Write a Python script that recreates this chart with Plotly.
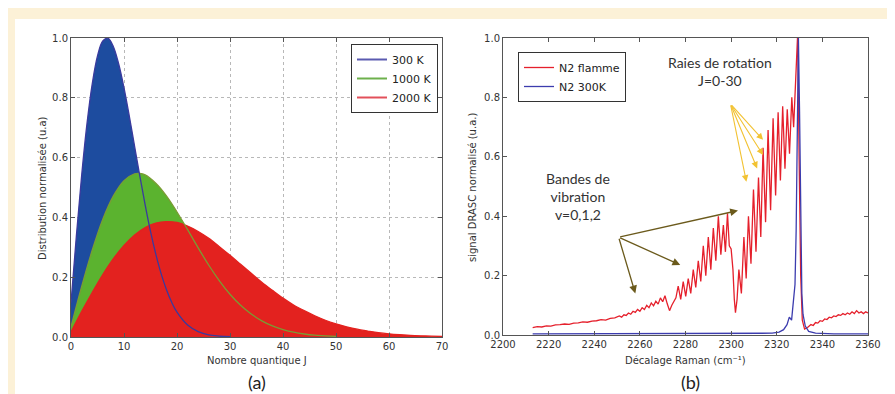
import plotly.graph_objects as go

# ---------------- Panel (a): rotational population distributions ----------------
J_300 = [0, 1, 2, 3, 4, 5, 6, 7, 8, 9, 10, 11, 12, 13, 14, 15, 16, 17, 18, 19, 20, 22, 24, 26, 28, 30]
P_300 = [0.114, 0.335, 0.538, 0.711, 0.846, 0.940, 0.990, 0.999, 0.971, 0.913, 0.833, 0.739, 0.638,
         0.537, 0.441, 0.353, 0.277, 0.212, 0.159, 0.116, 0.083, 0.040, 0.018, 0.007, 0.003, 0.001]

J_1000 = [0, 2, 4, 6, 8, 10, 12, 13, 14, 16, 18, 20, 22, 24, 26, 28, 30, 32, 34, 36, 38, 40, 42, 44, 46, 48, 50]
P_1000 = [0.034, 0.168, 0.290, 0.394, 0.472, 0.523, 0.546, 0.547, 0.542, 0.514, 0.472, 0.418, 0.359,
          0.298, 0.240, 0.188, 0.143, 0.106, 0.077, 0.054, 0.037, 0.025, 0.016, 0.010, 0.006, 0.004, 0.002]

J_2000 = [0, 2, 4, 6, 8, 10, 12, 14, 16, 18, 20, 22, 24, 26, 28, 30, 32, 34, 36, 38, 40, 42, 44, 46,
          48, 50, 52, 54, 56, 58, 60, 62, 64, 66, 68, 70]
P_2000 = [0.017, 0.085, 0.149, 0.209, 0.262, 0.306, 0.341, 0.366, 0.381, 0.386, 0.383, 0.371, 0.353,
          0.330, 0.302, 0.273, 0.243, 0.213, 0.183, 0.156, 0.130, 0.107, 0.088, 0.071, 0.056, 0.044,
          0.034, 0.026, 0.020, 0.0145, 0.0106, 0.0077, 0.0055, 0.0039, 0.0027, 0.0019]

TEMP_LABELS = ["300 K", "1000 K", "2000 K"]

# ---------------- Panel (b): CARS spectra ----------------
FLAME_X = [2213, 2215, 2217, 2219, 2221, 2223, 2225, 2227, 2229, 2231, 2233, 2235, 2237, 2239, 2241,
           2243, 2245, 2247, 2249, 2251, 2252, 2253, 2254, 2255, 2256, 2257, 2258, 2259, 2260, 2261,
           2262, 2263, 2264, 2265, 2266, 2267, 2268, 2269, 2270, 2271, 2272, 2273, 2274, 2275,
           2275.8, 2276.8, 2277.9, 2279.0, 2280.1, 2281.2, 2282.3, 2283.4, 2284.5, 2285.6, 2286.7,
           2287.8, 2288.9, 2290.0, 2291.1, 2292.2, 2293.3, 2294.4, 2295.5, 2296.6, 2297.5, 2298.4,
           2299.2, 2300.0, 2300.8, 2301.4, 2301.9,
           2302.6, 2303.4, 2304.5, 2305.6, 2306.6, 2307.6, 2308.7, 2309.8, 2310.9, 2312.0, 2313.0,
           2314.0, 2315.1, 2316.2, 2317.3, 2318.4, 2319.5, 2320.6, 2321.6, 2322.6, 2323.6, 2324.6,
           2325.6, 2326.6, 2327.4, 2328.0, 2328.6, 2329.2, 2329.8, 2330.5, 2331.2, 2332.2,
           2333.5, 2335, 2336, 2337, 2338, 2339, 2340, 2341, 2342, 2343, 2344, 2345, 2346, 2347,
           2348, 2349, 2350, 2351, 2352, 2353, 2354, 2355, 2356, 2357, 2358, 2359, 2360]
FLAME_Y = [0.025, 0.028, 0.027, 0.031, 0.030, 0.034, 0.035, 0.037, 0.036, 0.040, 0.041, 0.044, 0.043,
           0.047, 0.048, 0.052, 0.050, 0.056, 0.058, 0.064, 0.060, 0.068, 0.066, 0.074, 0.070, 0.080,
           0.076, 0.086, 0.080, 0.092, 0.086, 0.100, 0.092, 0.108, 0.098, 0.114, 0.104, 0.125, 0.112,
           0.132, 0.105, 0.082, 0.100, 0.115,
           0.125, 0.165, 0.120, 0.180, 0.130, 0.190, 0.140, 0.220, 0.160, 0.250, 0.180,
           0.300, 0.200, 0.330, 0.220, 0.360, 0.250, 0.400, 0.270, 0.370, 0.280, 0.410,
           0.300, 0.290, 0.220, 0.120, 0.075,
           0.120, 0.220, 0.140, 0.330, 0.190, 0.400, 0.240, 0.490, 0.280, 0.530, 0.330,
           0.630, 0.380, 0.690, 0.420, 0.730, 0.470, 0.750, 0.520, 0.770, 0.560, 0.760,
           0.610, 0.800, 0.700, 0.820, 0.900, 1.020, 0.600, 0.200, 0.050, 0.020,
           0.025, 0.035, 0.032, 0.042, 0.040, 0.048, 0.046, 0.054, 0.052, 0.060, 0.058, 0.064, 0.062,
           0.068, 0.066, 0.072, 0.068, 0.074, 0.070, 0.078, 0.072, 0.082, 0.074, 0.078, 0.072, 0.078, 0.074]

COLD_X = [2213, 2230, 2250, 2270, 2290, 2310, 2318, 2321, 2323, 2324.5, 2325.5, 2326.5, 2327.3, 2328.0,
          2328.5, 2329.0, 2329.5, 2330.0, 2330.5, 2331.0, 2331.5, 2332.5, 2334, 2337, 2345, 2360]
COLD_Y = [0.004, 0.004, 0.004, 0.004, 0.004, 0.005, 0.006, 0.010, 0.018, 0.035, 0.060, 0.050, 0.110,
          0.170, 0.350, 0.750, 1.000, 0.750, 0.350, 0.140, 0.070, 0.030, 0.012, 0.006, 0.004, 0.004]

SPEC_LABELS = ["N2 flamme", "N2 300K"]

W, H = 895, 394
OFF = 8  # page body margin offset
def px(x): return (x - OFF) / W
def py(y): return 1 - (y - OFF) / H

fig = go.Figure()

FILL = ["#1d4c9f", "#5bb32f", "#e3221f"]
LINE = ["#3a3a9e", "#7a9c34", "#e3221f"]
LEG = ["#5a5ab0", "#6db04c", "#e2505a"]
series = [(J_300, P_300), (J_1000, P_1000), (J_2000, P_2000)]

for (xs, ys), fc in zip(series, FILL):
    fig.add_trace(go.Scatter(x=xs, y=ys, mode="lines", fill="tozeroy", fillcolor=fc,
                             line=dict(width=0, shape="spline", color=fc), showlegend=False,
                             hoverinfo="skip", xaxis="x", yaxis="y"))
for i in [2, 1, 0]:
    xs, ys = series[i]
    fig.add_trace(go.Scatter(x=xs, y=ys, mode="lines", line=dict(width=1.3, shape="spline", color=LINE[i]),
                             showlegend=False, xaxis="x", yaxis="y"))
for i in range(3):
    fig.add_trace(go.Scatter(x=[None], y=[None], mode="lines", name=TEMP_LABELS[i],
                             line=dict(width=2, color=LEG[i]), xaxis="x", yaxis="y", legend="legend"))

fig.add_trace(go.Scatter(x=FLAME_X, y=FLAME_Y, mode="lines", name=SPEC_LABELS[0],
                         line=dict(width=1.3, color="#e5202c"), xaxis="x2", yaxis="y2", legend="legend2"))
fig.add_trace(go.Scatter(x=COLD_X, y=COLD_Y, mode="lines", name=SPEC_LABELS[1],
                         line=dict(width=1.3, color="#3c3cae"), xaxis="x2", yaxis="y2", legend="legend2"))

tickfont = dict(family="DejaVu Sans", size=10, color="#333")
common = dict(showline=True, linecolor="#555", linewidth=1, mirror="allticks", ticks="inside",
              ticklen=4, tickcolor="#555", tickfont=tickfont, zeroline=False, automargin=False)

fig.update_layout(
    width=W, height=H, margin=dict(l=0, r=0, t=0, b=0, autoexpand=False),
    paper_bgcolor="white", plot_bgcolor="white",
    xaxis=dict(domain=[px(71), px(442)], range=[0, 70], dtick=10, showgrid=True,
               gridcolor="#b8b8b8", griddash="dot", anchor="y", **common),
    yaxis=dict(domain=[py(337), py(38)], range=[0, 1], dtick=0.2, tickformat=".1f", showgrid=True,
               gridcolor="#b8b8b8", griddash="dot", anchor="x", **common),
    xaxis2=dict(domain=[px(503), px(868)], range=[2200, 2360], dtick=20, showgrid=False,
                anchor="y2", **common),
    yaxis2=dict(domain=[py(335), py(38)], range=[0, 1], dtick=0.2, tickformat=".1f", showgrid=False,
                anchor="x2", **common),
    legend=dict(x=px(351), y=py(44), xanchor="left", yanchor="top", bgcolor="white",
                bordercolor="#333", borderwidth=1, font=dict(family="DejaVu Sans", size=11, color="#222"),
                itemwidth=30, tracegroupgap=0),
    legend2=dict(x=px(518), y=py(52), xanchor="left", yanchor="top", bgcolor="white",
                 bordercolor="#333", borderwidth=1, font=dict(family="DejaVu Sans", size=11, color="#222"),
                 itemwidth=30, tracegroupgap=0),
)

# cream page frame
cream = "#fcf1d7"
fig.add_shape(type="rect", xref="paper", yref="paper", x0=0, x1=1, y0=py(19), y1=1,
              fillcolor=cream, line=dict(width=0), layer="below")
fig.add_shape(type="rect", xref="paper", yref="paper", x0=0, x1=px(15), y0=0, y1=1,
              fillcolor=cream, line=dict(width=0), layer="below")

ann = []
C = dict(xanchor="center", yanchor="middle", showarrow=False, xref="paper", yref="paper")
lab = dict(family="DejaVu Sans", size=10, color="#333")
ann.append(dict(text="Nombre quantique J", x=px(257), y=py(360), font=lab, **C))
ann.append(dict(text="Décalage Raman (cm⁻¹)", x=px(685), y=py(360), font=lab, **C))
ann.append(dict(text="Distribution normalisée (u.a)", x=px(42), y=py(188), textangle=-90, font=lab, **C))
ann.append(dict(text="signal DRASC normalisé (u.a.)", x=px(472), y=py(188), textangle=-90, font=lab, **C))
big = dict(family="Lato", size=18, color="#222")
ann.append(dict(text="(a)", x=px(257), y=py(382), font=big, **C))
ann.append(dict(text="(b)", x=px(690), y=py(382), font=big, **C))

note = dict(family="Lato", size=14, color="#333")
ann.append(dict(text="Raies de rotation<br>J=0-30", x=2295, y=0.886, xref="x2", yref="y2",
                showarrow=False, font=note))
ann.append(dict(text="Bandes de<br>vibration<br>v=0,1,2", x=2233, y=0.468, xref="x2", yref="y2",
                showarrow=False, font=note))

brown = "#6b5a1c"
for hx, hy in [(2258.0, 0.140), (2277.7, 0.236), (2303.0, 0.419)]:
    ann.append(dict(x=hx, y=hy, ax=2250.7, ay=0.329, xref="x2", yref="y2", axref="x2", ayref="y2",
                    showarrow=True, arrowhead=2, arrowsize=1.2, arrowwidth=1.3, arrowcolor=brown, text=""))
yellow = "#f2c232"
for hx, hy in [(2314.0, 0.657), (2314.0, 0.606), (2311.4, 0.561), (2306.7, 0.516)]:
    ann.append(dict(x=hx, y=hy, ax=2299.7, ay=0.778, xref="x2", yref="y2", axref="x2", ayref="y2",
                    showarrow=True, arrowhead=2, arrowsize=1.2, arrowwidth=1.1, arrowcolor=yellow, text=""))
fig.update_layout(annotations=ann)

fig.write_html("out.html")
